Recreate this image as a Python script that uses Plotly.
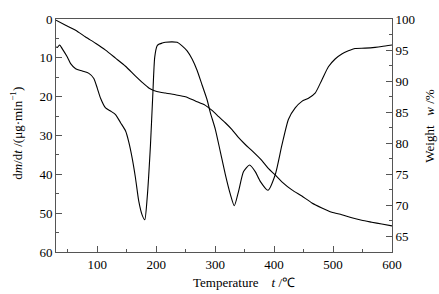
import plotly.graph_objects as go

# DTG curve (left axis, dm/dt in ug/min)
dtg_T = [30, 32.3, 36.2, 40.7, 49.2, 54.8, 63.3, 74.6, 85.8, 94.2, 100, 105.6, 114.1, 122.5, 131,
         139.5, 147.9, 153.5, 159.3, 164.9, 170.4, 176.2, 180.6, 184.7, 190.2, 194.1, 197.5, 201.6,
         204.3, 210.1, 215.6, 227, 235.5, 243.9, 252.4, 260.9, 269.3, 277.8, 286.3, 291.8, 300.3,
         308.8, 317.2, 325.7, 332.5, 339.8, 348.2, 358.4, 368, 376.5, 389.5, 401.9, 413.2, 424.4,
         435.8, 447.1, 458.3, 469.6, 481, 492.1, 503.5, 514.8, 526, 537.4, 554.3, 571.3, 582.6, 600]
dtg_v = [7.2, 7.3, 6.7, 7.7, 9.8, 11.5, 12.8, 13.4, 14.0, 15.3, 17.8, 20.4, 22.9, 23.7, 24.6,
         26.7, 28.8, 31.7, 35.9, 41.0, 46.9, 50.5, 51.7, 46.0, 32.6, 19.9, 9.8, 6.9,
         6.5, 6.2, 6.0, 5.9, 6.0, 6.9, 8.2, 10.3, 13.2, 17.0, 20.8, 24.1, 28.4,
         34.2, 40.0, 45.1, 48.1, 44.3, 39.3, 37.6, 39.3, 41.8, 44.1, 40.1, 32.5, 25.8,
         22.9, 21.2, 20.4, 19.1, 15.7, 12.3, 10.3, 9.0, 8.2, 7.6, 7.5, 7.3, 7.1, 6.7]

# TG curve (right axis, weight %)
tg_T = [30, 46.3, 63.3, 80.2, 97.1, 114.1, 131, 147.9, 164.9, 176.2, 187.4, 195.8, 207.2, 215.6,
        232.6, 249.5, 266.4, 283.4, 294.7, 305.9, 317.2, 328.6, 339.8, 351.1, 362.4, 379.4, 390.6,
        401.9, 413.2, 430.2, 447.1, 464.1, 481, 497.9, 514.8, 531.8, 548.7, 565.6, 582.6, 600]
tg_v = [99.8, 99.0, 98.2, 97.1, 96.1, 95.0, 93.7, 92.4, 90.8, 89.8, 88.9, 88.5, 88.2, 88.1,
        87.8, 87.5, 86.8, 86.1, 85.3, 84.3, 83.3, 82.2, 80.9, 79.8, 78.8, 77.2, 75.9,
        74.9, 73.8, 72.5, 71.5, 70.4, 69.6, 68.9, 68.5, 68.0, 67.6, 67.3, 67.0, 66.7]

# axis ticks
x_ticks = [100, 200, 300, 400, 500, 600]
x_minor = [50, 150, 250, 350, 450, 550]
y_ticks = [0, 10, 20, 30, 40, 50, 60]
y_minor = [5, 15, 25, 35, 45, 55]
y2_ticks = [65, 70, 75, 80, 85, 90, 95, 100]
y2_minor = [67.5, 72.5, 77.5, 82.5, 87.5, 92.5, 97.5]

FONT = "Liberation Serif"
AX = "#555555"

fig = go.Figure()
fig.add_trace(go.Scatter(x=dtg_T, y=dtg_v, mode="lines", line=dict(color="black", width=1.1, shape="spline", smoothing=0.6), yaxis="y", showlegend=False))
fig.add_trace(go.Scatter(x=tg_T, y=tg_v, mode="lines", line=dict(color="black", width=1.1, shape="spline", smoothing=0.6), yaxis="y2", showlegend=False))

tickfont = dict(family=FONT, size=13, color="black")
fig.update_layout(
    width=439, height=294,
    margin=dict(l=56, r=47, t=14, b=42),
    paper_bgcolor="white", plot_bgcolor="white",
    font=dict(family=FONT, size=13, color="black"),
    xaxis=dict(range=[30, 600], tickvals=x_ticks, ticks="inside", ticklen=6,
               tickcolor=AX, showline=True, linecolor=AX, linewidth=1, mirror=True, showgrid=False,
               zeroline=False, tickfont=tickfont,
               minor=dict(tickvals=x_minor, ticks="inside", ticklen=3, tickcolor=AX)),
    yaxis=dict(range=[60, 0], tickvals=y_ticks, ticks="inside", ticklen=6,
               tickcolor=AX, showline=True, linecolor=AX, linewidth=1, showgrid=False, zeroline=False,
               tickfont=tickfont,
               minor=dict(tickvals=y_minor, ticks="inside", ticklen=3, tickcolor=AX)),
    yaxis2=dict(range=[62.5, 100], overlaying="y", side="right", tickvals=y2_ticks,
                ticks="inside", ticklen=6, tickcolor=AX, showline=True, linecolor=AX, linewidth=1,
                showgrid=False, zeroline=False, tickfont=tickfont,
                minor=dict(tickvals=y2_minor, ticks="inside", ticklen=3, tickcolor=AX)),
    annotations=[
        dict(text="Temperature    <i>t</i> /℃", xref="paper", yref="paper", x=0.56, y=-0.13,
             showarrow=False, font=dict(family=FONT, size=13), xanchor="center", yanchor="middle"),
        dict(text="d<i>m</i>/d<i>t</i> /(μg·min<sup>−1</sup>)", xref="paper", yref="paper", x=-0.119, y=0.508,
             textangle=-90, showarrow=False, font=dict(family=FONT, size=13), xanchor="center", yanchor="middle"),
        dict(text="Weight   <i>w</i> /%", xref="paper", yref="paper", x=1.113, y=0.542,
             textangle=-90, showarrow=False, font=dict(family=FONT, size=13), xanchor="center", yanchor="middle"),
    ],
)

fig.write_html("out.html", config={"displayModeBar": False},
               post_script="document.body.style.margin='0px';document.body.style.overflow='hidden';")
